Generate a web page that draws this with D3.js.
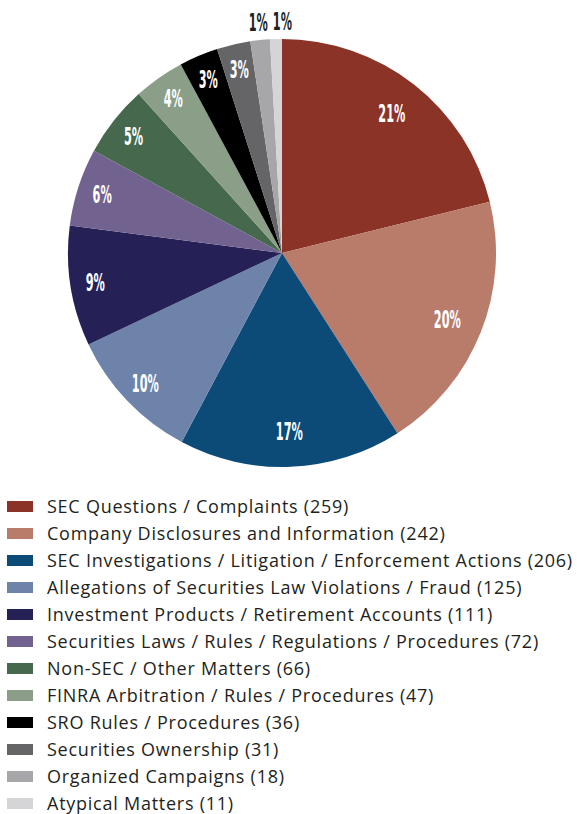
<!DOCTYPE html>
<html lang="en">
<head>
    <meta charset="UTF-8">
    <title>Complaints by Category</title>
    <!-- Include D3.js -->
    <script src="https://d3js.org/d3.v7.min.js"></script>
    <style>
        body { margin: 0; background: #ffffff; }
    </style>
</head>
<body>

    <!-- SVG container for the pie chart and legend -->
    <svg id="chart" width="584" height="814"></svg>

    <script>
        // Chart data
        const categories = [
            'SEC Questions / Complaints',
            'Company Disclosures and Information',
            'SEC Investigations / Litigation / Enforcement Actions',
            'Allegations of Securities Law Violations / Fraud',
            'Investment Products / Retirement Accounts',
            'Securities Laws / Rules / Regulations / Procedures',
            'Non-SEC / Other Matters',
            'FINRA Arbitration / Rules / Procedures',
            'SRO Rules / Procedures',
            'Securities Ownership',
            'Organized Campaigns',
            'Atypical Matters'
        ];
        const counts = [259, 242, 206, 125, 111, 72, 66, 47, 36, 31, 18, 11];
        const percentLabels = ['21%', '20%', '17%', '10%', '9%', '6%', '5%', '4%', '3%', '3%', '1%', '1%'];
        const colors = [
            '#8c3327', '#b97b6a', '#0c4a78', '#6d83aa', '#252157', '#71628f',
            '#46694d', '#8a9e88', '#000000', '#656466', '#a7a6a8', '#d5d4d6'
        ];

        const svg = d3.select('#chart');
        const cx = 282, cy = 253, radius = 214;

        const data = categories.map((c, i) => ({ name: c, value: counts[i], label: percentLabels[i], color: colors[i] }));

        // Pie layout, clockwise from 12 o'clock in data order
        const pie = d3.pie().sort(null).value(d => d.value);
        const arcs = pie(data);

        const arc = d3.arc().innerRadius(0).outerRadius(radius);
        // big slices put their label a bit further in than the thin ones
        const bigLabelArc = d3.arc().innerRadius(178).outerRadius(178);
        const labelArc = d3.arc().innerRadius(189).outerRadius(189);
        const outerLabelArc = d3.arc().innerRadius(232).outerRadius(232);

        const g = svg.append('g').attr('transform', `translate(${cx},${cy})`);

        g.selectAll('path')
            .data(arcs)
            .enter()
            .append('path')
            .attr('d', arc)
            .attr('fill', d => d.data.color);

        // Percent labels (small slices get their label outside the pie)
        const labels = g.selectAll('text.pct')
            .data(arcs)
            .enter()
            .append('text')
            .attr('class', 'pct')
            .attr('text-anchor', 'middle')
            .attr('dy', '0.36em')
            .style('font-family', '"Liberation Sans Narrow", "DejaVu Sans Condensed", sans-serif')
            .style('font-weight', 'bold')
            .style('font-size', '24px')
            .attr('fill', d => d.data.value < 20 ? '#231f20' : '#ffffff')
            .text(d => d.data.label);

        // squeeze the labels so "21%" is about 27px wide, like the condensed face in the original
        const refLen = labels.filter(d => d.data.label === '21%').node().getComputedTextLength();
        const sx = 27 / refLen;

        let lastOuterRight = -Infinity;
        labels.attr('transform', function (d) {
            const v = d.data.value;
            let [x, y] = v < 20 ? outerLabelArc.centroid(d)
                : v > 200 ? bigLabelArc.centroid(d)
                : labelArc.centroid(d);
            if (v < 20) {
                // keep neighbouring outside labels from overlapping
                const w = this.getComputedTextLength() * sx;
                x = Math.max(x, lastOuterRight + w / 2 + 5);
                lastOuterRight = x + w / 2;
            }
            return `translate(${x},${y}) scale(${sx},1)`;
        });

        // Legend
        const legendY = 507, rowGap = 27;
        const legend = svg.append('g')
            .selectAll('g')
            .data(data)
            .enter()
            .append('g')
            .attr('transform', (d, i) => `translate(0,${legendY + i * rowGap})`);

        legend.append('rect')
            .attr('x', 7)
            .attr('y', -6)
            .attr('width', 26)
            .attr('height', 11)
            .attr('fill', d => d.color);

        legend.append('text')
            .attr('x', 47)
            .attr('dy', '0.35em')
            .style('font-family', '"Open Sans", sans-serif')
            .style('font-size', '18px')
            .style('letter-spacing', '0.75px')
            .attr('fill', '#231f20')
            .text(d => `${d.name} (${d.value})`);
    </script>
</body>
</html>
